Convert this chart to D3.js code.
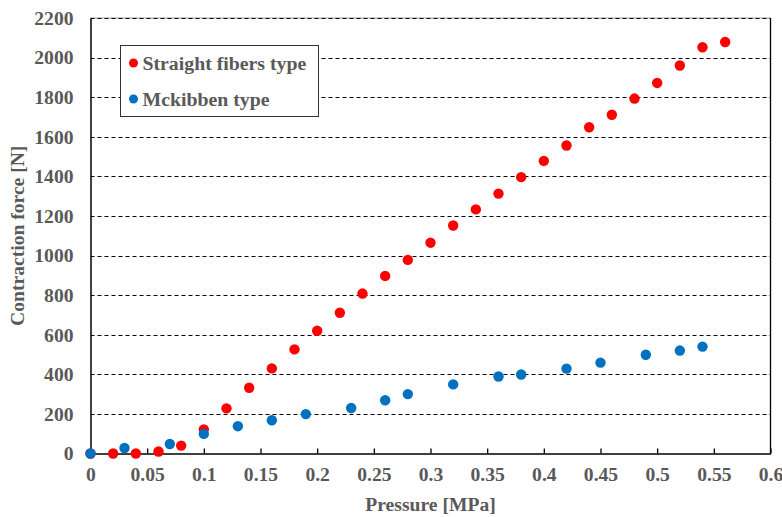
<!DOCTYPE html>
<html lang="en">
<head>
    <meta charset="UTF-8">
    <script src="https://d3js.org/d3.v7.min.js"></script>
    <title>Contraction force vs pressure</title>
    <style>
        body { margin: 0; background: #fff; }
        svg text { font-family: "Liberation Serif", "Times New Roman", serif; font-weight: bold; fill: #595959; }
    </style>
</head>
<body>
<div id="chart"></div>
<script>
    // straight fibers type
    const straightP = [0, 0.02, 0.04, 0.06, 0.08, 0.10, 0.12, 0.14, 0.16, 0.18, 0.20, 0.22, 0.24, 0.26, 0.28,
                       0.30, 0.32, 0.34, 0.36, 0.38, 0.40, 0.42, 0.44, 0.46, 0.48, 0.50, 0.52, 0.54, 0.56];
    const straightF = [0, 0, 0, 10, 40, 122, 228, 332, 430, 526, 620, 711, 808, 897, 978,
                       1065, 1152, 1233, 1313, 1396, 1478, 1556, 1648, 1711, 1793, 1872, 1960, 2052, 2079];
    // mckibben type
    const mckP = [0, 0.03, 0.07, 0.10, 0.13, 0.16, 0.19, 0.23, 0.26, 0.28, 0.32, 0.36, 0.38, 0.42, 0.45, 0.49, 0.52, 0.54];
    const mckF = [0, 28, 48, 99, 138, 168, 199, 230, 269, 300, 349, 389, 399, 429, 459, 499, 520, 540];

    const xTicks = [0, 0.05, 0.1, 0.15, 0.2, 0.25, 0.3, 0.35, 0.4, 0.45, 0.5, 0.55, 0.6];
    const yTicks = [0, 200, 400, 600, 800, 1000, 1200, 1400, 1600, 1800, 2000, 2200];
    const seriesNames = ["Straight fibers type", "Mckibben type"];
    const seriesColors = ["#ff0000", "#0070c0"];

    const w = 782, h = 517;
    const mLeft = 90.5, mRight = 770.5, mTop = 18, mBottom = 453.5;

    const svg = d3.select("#chart").append("svg")
        .attr("width", w)
        .attr("height", h);

    const xScale = d3.scaleLinear().domain([0, 0.6]).range([mLeft, mRight]);
    const yScale = d3.scaleLinear().domain([0, 2200]).range([mBottom, mTop]);

    // top frame line (grey) under the dashed gridline
    svg.append("line")
        .attr("x1", mLeft).attr("x2", mRight)
        .attr("y1", yScale(2200)).attr("y2", yScale(2200))
        .attr("stroke", "#9a9a9a").attr("stroke-width", 1);

    // gridlines
    svg.append("g").selectAll("line")
        .data(yTicks.filter(d => d > 0))
        .enter().append("line")
        .attr("x1", mLeft).attr("x2", mRight)
        .attr("y1", d => Math.round(yScale(d)) + 0.5)
        .attr("y2", d => Math.round(yScale(d)) + 0.5)
        .attr("stroke", "#000")
        .attr("stroke-width", 1)
        .attr("stroke-dasharray", "4,3");

    // right border
    svg.append("line")
        .attr("x1", mRight).attr("x2", mRight)
        .attr("y1", mTop).attr("y2", mBottom)
        .attr("stroke", "#000").attr("stroke-width", 1.3);

    // axes
    const xAxis = d3.axisBottom(xScale).tickValues(xTicks).tickSizeInner(-5).tickSizeOuter(0)
        .tickPadding(14).tickFormat(d => String(+d.toFixed(2)));
    const gx = svg.append("g")
        .attr("transform", "translate(0," + mBottom + ")")
        .call(xAxis);
    gx.select(".domain").attr("stroke", "#000").attr("stroke-width", 1.5);
    gx.selectAll(".tick line").attr("stroke", "#000").attr("stroke-width", 1.3);
    gx.selectAll(".tick text").style("font-size", "19.6px").attr("fill", null);

    const yAxis = d3.axisLeft(yScale).tickValues(yTicks).tickSize(0).tickPadding(17)
        .tickFormat(d => String(d));
    const gy = svg.append("g")
        .attr("transform", "translate(" + mLeft + ",0)")
        .call(yAxis);
    gy.select(".domain").attr("stroke", "#000").attr("stroke-width", 1.5);
    gy.selectAll(".tick text").style("font-size", "19.6px").attr("fill", null);

    // points
    const straight = straightP.map((p, i) => ({ p: p, f: straightF[i] }));
    const mck = mckP.map((p, i) => ({ p: p, f: mckF[i] }));

    svg.append("g").selectAll("circle")
        .data(straight)
        .enter().append("circle")
        .attr("cx", d => xScale(d.p))
        .attr("cy", d => yScale(d.f))
        .attr("r", 5.2)
        .attr("fill", seriesColors[0]);

    svg.append("g").selectAll("circle")
        .data(mck)
        .enter().append("circle")
        .attr("cx", d => xScale(d.p))
        .attr("cy", d => yScale(d.f))
        .attr("r", 5.2)
        .attr("fill", seriesColors[1]);

    // axis titles
    svg.append("text")
        .text("Pressure [MPa]")
        .attr("x", (mLeft + mRight) / 2)
        .attr("y", 511)
        .attr("text-anchor", "middle")
        .style("font-size", "19.6px");

    svg.append("text")
        .text("Contraction force [N]")
        .attr("transform", "translate(24," + ((mTop + mBottom) / 2) + ") rotate(-90)")
        .attr("text-anchor", "middle")
        .style("font-size", "19.6px");

    // legend
    const legend = svg.append("g");
    legend.append("rect")
        .attr("x", 120.5).attr("y", 45.5)
        .attr("width", 198).attr("height", 71)
        .attr("fill", "#fff")
        .attr("stroke", "#333").attr("stroke-width", 1);

    legend.selectAll("circle")
        .data(seriesNames)
        .enter().append("circle")
        .attr("cx", 133.5)
        .attr("cy", (d, i) => 63 + i * 36)
        .attr("r", 4.5)
        .attr("fill", (d, i) => seriesColors[i]);

    legend.selectAll("text")
        .data(seriesNames)
        .enter().append("text")
        .text(d => d)
        .attr("x", 142.5)
        .attr("y", (d, i) => 69.5 + i * 36)
        .style("font-size", "19.8px");
</script>
</body>
</html>
